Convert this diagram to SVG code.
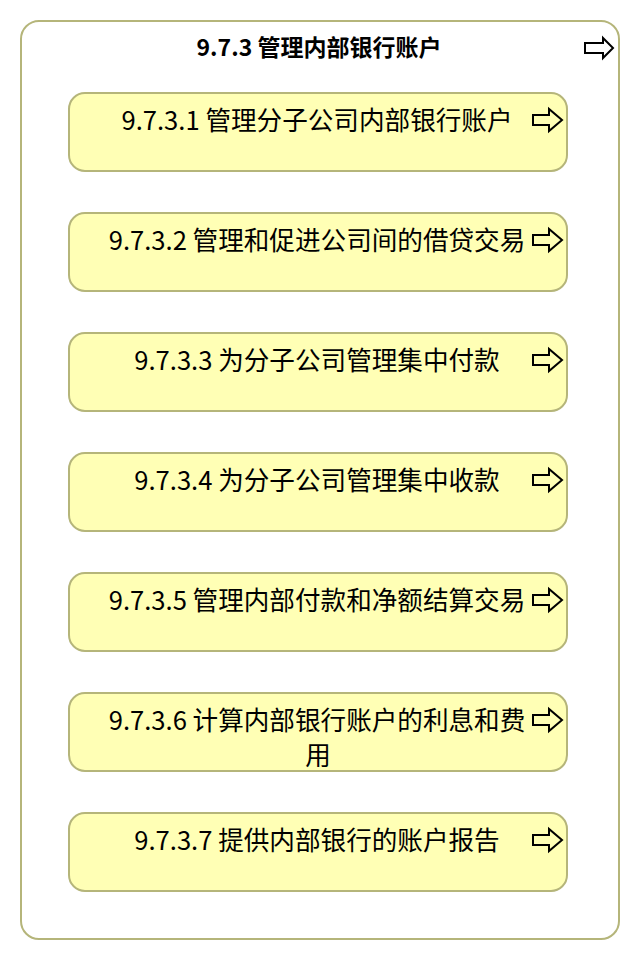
<svg xmlns="http://www.w3.org/2000/svg" width="640" height="960" viewBox="0 0 640 960">
<defs>
<style>
.outer{fill:#ffffff;stroke:#b5b57a;stroke-width:2}
.box{fill:#ffffb5;stroke:#b5b57a;stroke-width:2}
.arr{fill:none;stroke:#000;stroke-width:2;stroke-linejoin:miter}
.title{font-family:"Noto Sans CJK SC","Noto Sans",sans-serif;font-size:23px;font-weight:bold;fill:#000;text-anchor:middle}
.lbl{font-family:"Noto Sans CJK SC","Noto Sans",sans-serif;font-size:25.6px;fill:#000;text-anchor:middle}
</style>
<path id="ia" d="M533,115 H549 V109 L562,120 L549,131 V125 H533 Z"/>
</defs>
<rect width="640" height="960" fill="#ffffff"/>
<g id="n973">
<rect class="outer" x="21" y="21" width="598" height="918" rx="18" ry="18"/>
<text class="title" x="319" y="56">9.7.3 管理内部银行账户</text>
<path class="arr" d="M585,43 H603 V38 L613,48 L603,58 V53 H585 Z"/>
</g>
<g id="n9731">
<rect class="box" x="69" y="93" width="498" height="78" rx="16" ry="16"/>
<text class="lbl" x="317" y="130">9.7.3.1 管理分子公司内部银行账户</text>
<use href="#ia" class="arr"/>
</g>
<g id="n9732">
<rect class="box" x="69" y="213" width="498" height="78" rx="16" ry="16"/>
<text class="lbl" x="317" y="250">9.7.3.2 管理和促进公司间的借贷交易</text>
<use href="#ia" class="arr" y="120"/>
</g>
<g id="n9733">
<rect class="box" x="69" y="333" width="498" height="78" rx="16" ry="16"/>
<text class="lbl" x="317" y="370">9.7.3.3 为分子公司管理集中付款</text>
<use href="#ia" class="arr" y="240"/>
</g>
<g id="n9734">
<rect class="box" x="69" y="453" width="498" height="78" rx="16" ry="16"/>
<text class="lbl" x="317" y="490">9.7.3.4 为分子公司管理集中收款</text>
<use href="#ia" class="arr" y="360"/>
</g>
<g id="n9735">
<rect class="box" x="69" y="573" width="498" height="78" rx="16" ry="16"/>
<text class="lbl" x="317" y="610">9.7.3.5 管理内部付款和净额结算交易</text>
<use href="#ia" class="arr" y="480"/>
</g>
<g id="n9736">
<rect class="box" x="69" y="693" width="498" height="78" rx="16" ry="16"/>
<text class="lbl" x="317" y="730">9.7.3.6 计算内部银行账户的利息和费</text>
<text class="lbl" x="318" y="765">用</text>
<use href="#ia" class="arr" y="600"/>
</g>
<g id="n9737">
<rect class="box" x="69" y="813" width="498" height="78" rx="16" ry="16"/>
<text class="lbl" x="317" y="850">9.7.3.7 提供内部银行的账户报告</text>
<use href="#ia" class="arr" y="720"/>
</g>
<g id="connectors"/>
</svg>
